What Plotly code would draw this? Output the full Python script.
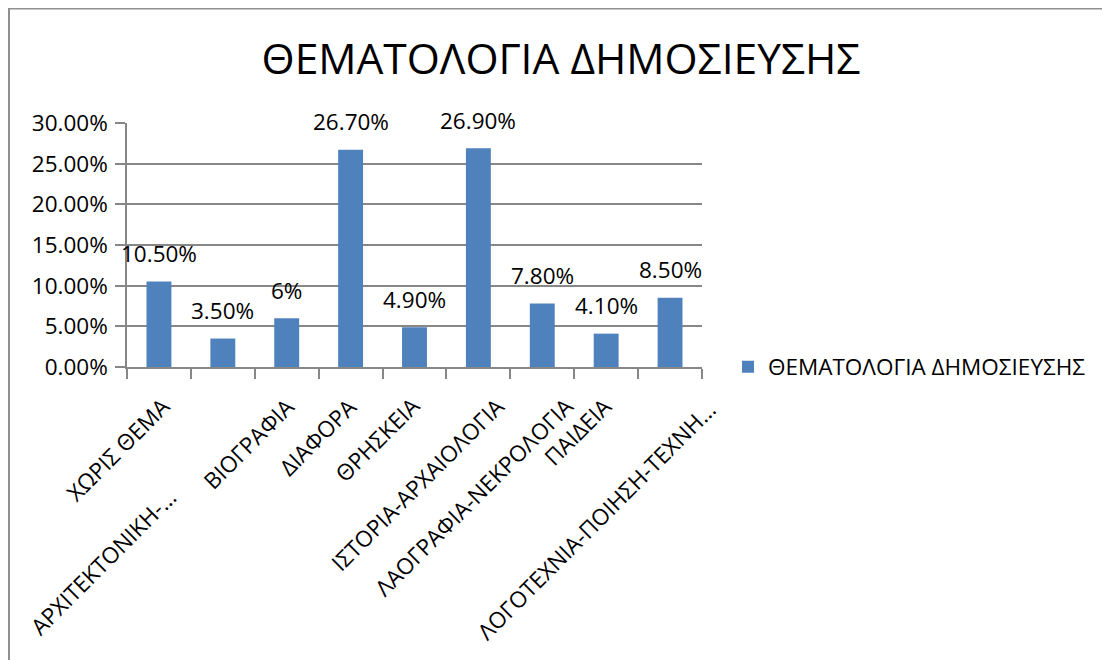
import plotly.graph_objects as go

# ---- data ----
categories = ["ΧΩΡΙΣ ΘΕΜΑ", "ΑΡΧΙΤΕΚΤΟΝΙΚΗ-…", "ΒΙΟΓΡΑΦΙΑ", "ΔΙΑΦΟΡΑ", "ΘΡΗΣΚΕΙΑ",
              "ΙΣΤΟΡΙΑ-ΑΡΧΑΙΟΛΟΓΙΑ", "ΛΑΟΓΡΑΦΙΑ-ΝΕΚΡΟΛΟΓΙΑ", "ΠΑΙΔΕΙΑ",
              "ΛΟΓΟΤΕΧΝΙΑ-ΠΟΙΗΣΗ-ΤΕΧΝΗ…"]
values = [0.105, 0.035, 0.06, 0.267, 0.049, 0.269, 0.078, 0.041, 0.085]
value_labels = ["10.50%", "3.50%", "6%", "26.70%", "4.90%", "26.90%", "7.80%", "4.10%", "8.50%"]
series_name = "ΘΕΜΑΤΟΛΟΓΙΑ ΔΗΜΟΣΙΕΥΣΗΣ"
chart_title = "ΘΕΜΑΤΟΛΟΓΙΑ ΔΗΜΟΣΙΕΥΣΗΣ"

# ---- style ----
FONT = "Open Sans"
FS = 22.5
BAR = "#4F81BD"
GRID = "#878787"
# per-label pixel offsets of the rotated category labels (xshift, yshift)
label_shift = [(20, -21), (-37, -112), (17, -21), (16, -21), (15, -21),
               (35, -21), (41, -21), (15, -21), (55, -25)]

OFF = 8  # page body margin
W, H = 1110 - OFF, 660 - OFF
L, T = 127 - OFF, 123 - OFF
R, B = W - (702 - OFF), H - (367 - OFF)
pw, ph = W - L - R, H - T - B

fig = go.Figure()
fig.add_trace(go.Bar(x=categories, y=values, name=series_name,
                     marker=dict(color=BAR, line=dict(width=0)),
                     showlegend=True))

annotations = []
for c, v, t in zip(categories, values, value_labels):
    annotations.append(dict(x=c, y=v, xref="x", yref="y", text=t, showarrow=False,
                            yshift=28, yanchor="middle", xanchor="center",
                            font=dict(family=FONT, size=FS, color="#000")))
for c, (dx, dy) in zip(categories, label_shift):
    annotations.append(dict(x=c, y=0, xref="x", yref="y", text=c, showarrow=False,
                            textangle=-45, xanchor="right", yanchor="top",
                            xshift=dx, yshift=dy,
                            font=dict(family=FONT, size=FS, color="#000")))

fig.update_layout(
    width=W, height=H,
    margin=dict(l=L, r=R, t=T, b=B, pad=0, autoexpand=False),
    paper_bgcolor="white", plot_bgcolor="white",
    font=dict(family=FONT, color="#000"),
    title=dict(text=chart_title, x=(561 - OFF) / W, xanchor="center",
               y=1 - (59 - OFF) / H, yanchor="middle", yref="container",
               font=dict(family=FONT, size=42.5, color="#000")),
    bargap=0.61,
    showlegend=True,
    legend=dict(x=(728 - OFF - L) / pw, xanchor="left", y=0, yanchor="middle",
                font=dict(family=FONT, size=FS, color="#000"),
                bgcolor="rgba(0,0,0,0)", itemclick=False),
    annotations=annotations,
    shapes=[dict(type="rect", xref="paper", yref="paper",
                 x0=(1 - L) / pw, x1=(W + 20 - L) / pw,
                 y0=(ph + T - (H + 20)) / ph, y1=(ph + T - 0.5) / ph,
                 line=dict(color="#8f8f8f", width=2), fillcolor="rgba(0,0,0,0)",
                 layer="below")],
)

fig.update_xaxes(range=[-0.5, len(categories) - 0.5], autorange=False,
                 showticklabels=False, ticks="outside", ticklen=10, tickcolor=GRID,
                 tickwidth=1.5,
                 tickson="boundaries", showline=True, linecolor=GRID, linewidth=1.5,
                 showgrid=False, zeroline=False)
fig.update_yaxes(range=[0, 0.30], dtick=0.05, tickformat=".2%", ticks="outside",
                 ticklen=10, tickcolor=GRID, tickwidth=1.5, showline=True,
                 linecolor=GRID, linewidth=1.5,
                 showgrid=True, gridcolor=GRID, gridwidth=1.5, zeroline=False,
                 ticklabelstandoff=3,
                 tickfont=dict(family=FONT, size=FS, color="#000"))

fig.write_html("out.html")
